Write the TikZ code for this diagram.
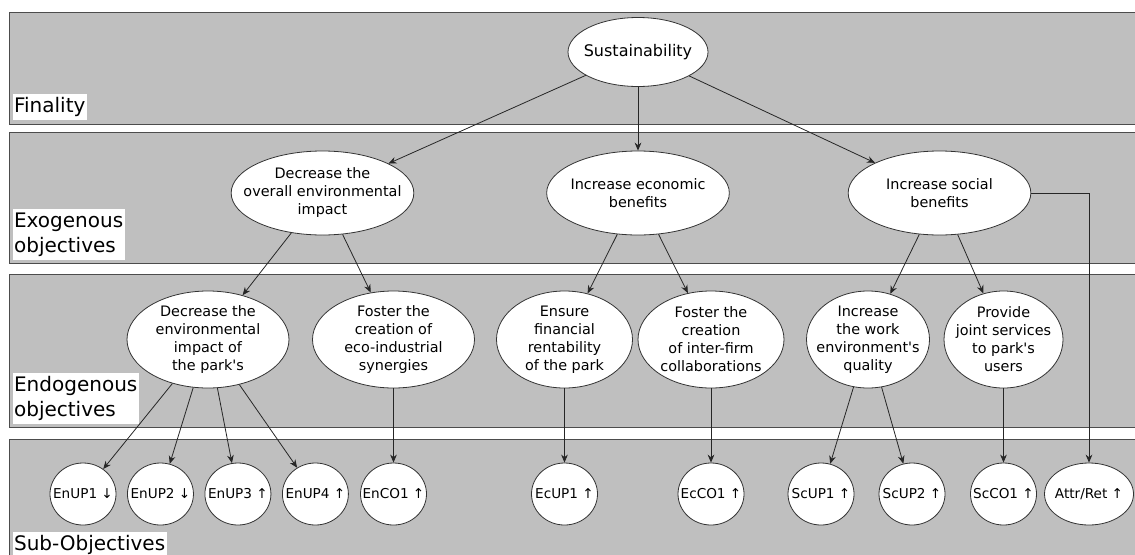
\documentclass[tikz,border=0pt]{standalone}
\usepackage{fontspec}
\setmainfont{DejaVu Sans}
\usetikzlibrary{arrows.meta, shapes.geometric, positioning}

\begin{document}
\begin{tikzpicture}[x=0.75pt,y=-0.75pt,
	bandstyle/.style={draw=black!70,fill=black!25,line width=0.6pt},
	lblstyle/.style={fill=white,inner xsep=1pt,inner ysep=2.5pt,anchor=south west,align=left,font=\fontsize{15}{18.75}\selectfont},
	objstyle/.style={draw=black!80,fill=white,ellipse,inner sep=0pt,line width=0.6pt},
	txtstyle/.style={align=center,inner sep=0pt,font=\fontsize{10.8}{13.5}\selectfont},
	subtxt/.style={txtstyle,font=\fontsize{10.2}{12}\selectfont},
	midstyle/.style={objstyle,minimum width=137pt,minimum height=63pt},
	endostyle/.style={objstyle,minimum height=72.75pt},
	substyle/.style={objstyle,minimum width=49.5pt,minimum height=46.5pt},
	arr/.style={-{Stealth[length=6pt,width=5pt]},black!85,line width=0.6pt}
]
	\useasboundingbox (0,0) rectangle (1135,554);
	\clip (0,0) rectangle (1135,554);

	\draw[bandstyle] (9,12) rectangle (1145,124);
	\draw[bandstyle] (9,132) rectangle (1145,263);
	\draw[bandstyle] (9,274) rectangle (1145,427);
	\draw[bandstyle] (9,439) rectangle (1145,562);
	\node[lblstyle] (lfin) at (12.5,120) {Finality};
	\node[lblstyle] (lexo) at (12.5,260) {Exogenous\\objectives};
	\node[lblstyle] (lendo) at (12.5,424) {Endogenous\\objectives};
	\node[lblstyle] (lsub) at (12.5,558) {Sub-Objectives};

	\node[objstyle,minimum width=105pt,minimum height=51.75pt,label={[txtstyle,font=\fontsize{12}{14}\selectfont,name=sustt]center:Sustainability}] (sust) at (638,52) {};

	\node[midstyle,label={[txtstyle,name=exo1t]center:Decrease the\\overall environmental\\impact}] (exo1) at (322.5,193) {};
	\node[midstyle,label={[txtstyle,name=exo2t]center:Increase economic\\benefits}] (exo2) at (638,193) {};
	\node[midstyle,label={[txtstyle,name=exo3t]center:Increase social\\benefits}] (exo3) at (939.5,193) {};

	\node[endostyle,minimum width=121.5pt,label={[txtstyle,name=endo1t]center:Decrease the\\environmental\\impact of\\the park\textquotesingle s}] (endo1) at (208,339.5) {};
	\node[endostyle,minimum width=121.5pt,label={[txtstyle,name=endo2t]center:Foster the\\creation of\\eco-industrial\\synergies}] (endo2) at (393.5,339.5) {};
	\node[endostyle,minimum width=102pt,label={[txtstyle,name=endo3t]center:Ensure\\financial\\rentability\\of the park}] (endo3) at (564.5,339.5) {};
	\node[endostyle,minimum width=109.5pt,label={[txtstyle,name=endo4t]center:Foster the\\creation\\of inter-firm\\collaborations}] (endo4) at (711,339.5) {};
	\node[endostyle,minimum width=92.25pt,label={[txtstyle,name=endo5t]center:Increase\\the work\\environment\textquotesingle s\\quality}] (endo5) at (868,339.5) {};
	\node[endostyle,minimum width=89.25pt,label={[txtstyle,name=endo6t]center:Provide\\joint services\\to park\textquotesingle s\\users}] (endo6) at (1003.5,339.5) {};

	\node[substyle,label={[subtxt,name=sub1t]center:EnUP1 ↓}] (sub1) at (83,494) {};
	\node[substyle,right=8pt of sub1,label={[subtxt,name=sub2t]center:EnUP2 ↓}] (sub2) {};
	\node[substyle,right=8pt of sub2,label={[subtxt,name=sub3t]center:EnUP3 ↑}] (sub3) {};
	\node[substyle,right=8pt of sub3,label={[subtxt,name=sub4t]center:EnUP4 ↑}] (sub4) {};
	\node[substyle,label={[subtxt,name=sub5t]center:EnCO1 ↑}] (sub5) at (393.5,494) {};
	\node[substyle,label={[subtxt,name=sub6t]center:EcUP1 ↑}] (sub6) at (564.5,494) {};
	\node[substyle,label={[subtxt,name=sub7t]center:EcCO1 ↑}] (sub7) at (711,494) {};
	\node[substyle,label={[subtxt,name=sub8t]center:ScUP1 ↑}] (sub8) at (821,494) {};
	\node[substyle,label={[subtxt,name=sub9t]center:ScUP2 ↑}] (sub9) at (912,494) {};
	\node[substyle,label={[subtxt,name=sub10t]center:ScCO1 ↑}] (sub10) at (1003.5,494) {};
	\node[substyle,minimum width=66.75pt,label={[subtxt,name=sub11t]center:Attr/Ret ↑}] (sub11) at (1089,494) {};

	\draw[arr] (sust) -- (exo1);
	\draw[arr] (sust) -- (exo2);
	\draw[arr] (sust) -- (exo3);
	\draw[arr] (exo1) -- (endo1);
	\draw[arr] (exo1) -- (endo2);
	\draw[arr] (exo2) -- (endo3);
	\draw[arr] (exo2) -- (endo4);
	\draw[arr] (exo3) -- (endo5);
	\draw[arr] (exo3) -- (endo6);
	\draw[arr] (exo3.east) -| (sub11.north);
	\draw[arr] (endo1) -- (sub1);
	\draw[arr] (endo1) -- (sub2);
	\draw[arr] (endo1) -- (sub3);
	\draw[arr] (endo1) -- (sub4);
	\draw[arr] (endo2) -- (sub5);
	\draw[arr] (endo3) -- (sub6);
	\draw[arr] (endo4) -- (sub7);
	\draw[arr] (endo5) -- (sub8);
	\draw[arr] (endo5) -- (sub9);
	\draw[arr] (endo6) -- (sub10);
\end{tikzpicture}
\end{document}
